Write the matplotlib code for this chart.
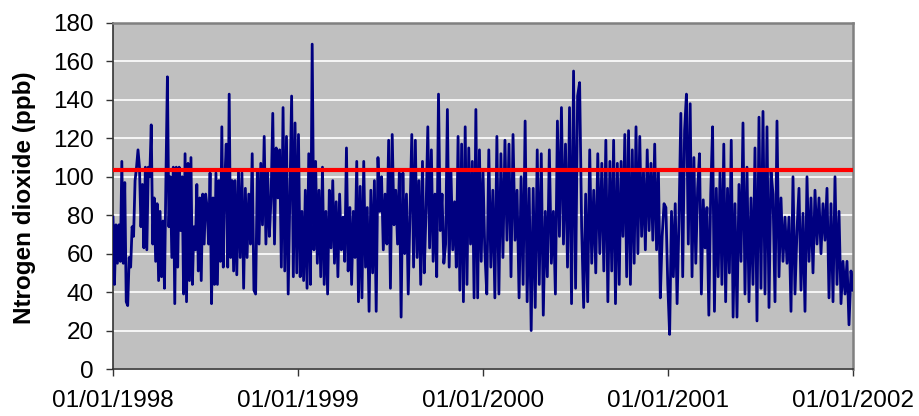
import numpy as np
import pandas as pd
import matplotlib
matplotlib.use("Agg")
import matplotlib.pyplot as plt
import matplotlib.dates as mdates

# NO2 readings (ppb) in six stretches
seg_edges = ['1998-01-01', '1998-08-30', '1999-05-04', '2000-01-05',
             '2000-09-08', '2001-05-13', '2002-01-01']

no2_a = [79, 44, 75, 55, 75, 56, 108, 55, 97, 35, 33, 58, 53, 74, 69, 98, 105, 114,
         105, 74, 96, 63, 105, 62, 105, 100, 127, 65, 89, 56, 86, 46, 82, 48, 77, 42,
         100, 152, 74, 100, 58, 105, 34, 105, 53, 105, 72, 100, 39, 112, 35, 107, 46,
         110, 44, 74, 62, 96, 51, 89, 46, 91, 65, 91, 84, 65, 102, 34, 89, 44, 102, 44,
         98, 56, 126, 53, 98, 117, 53, 143, 58, 98, 51]
no2_b = [98, 49, 103, 58, 102, 42, 94, 58, 91, 65, 112, 41, 39, 103, 65, 107, 75, 121,
         65, 103, 69, 89, 133, 65, 115, 89, 114, 53, 136, 51, 121, 39, 89, 142, 48, 128,
         50, 122, 48, 82, 46, 93, 42, 112, 44, 169, 62, 108, 55, 93, 48, 105, 44, 82,
         39, 93, 63, 98, 55, 87, 48, 91, 62, 79, 56, 115, 51, 84, 44, 82, 58, 108, 35]
no2_c = [95, 37, 108, 53, 84, 30, 93, 50, 98, 30, 110, 82, 100, 62, 91, 65, 119, 42,
         122, 75, 93, 65, 102, 27, 102, 60, 91, 39, 82, 122, 53, 119, 58, 98, 44, 108,
         50, 82, 126, 63, 114, 56, 91, 48, 143, 72, 91, 55, 65, 135, 53, 103, 62, 87,
         53, 121, 41, 117, 35, 126, 44, 115, 65, 108, 37, 135, 37, 114, 56, 103]
no2_d = [62, 39, 114, 53, 93, 37, 121, 39, 112, 58, 119, 67, 117, 48, 122, 67, 93, 37,
         100, 44, 129, 35, 94, 20, 94, 32, 114, 44, 112, 28, 82, 48, 114, 55, 82, 39,
         129, 69, 136, 65, 117, 53, 136, 34, 155, 42, 142, 149, 74, 32, 91, 35, 114,
         55, 93, 50, 112, 60, 107, 51, 119, 35]
no2_e = [108, 51, 119, 34, 107, 44, 108, 69, 122, 48, 124, 44, 114, 55, 126, 60, 121,
         69, 103, 62, 114, 72, 107, 67, 117, 62, 103, 37, 69, 86, 84, 44, 18, 82, 48,
         86, 34, 77, 133, 48, 124, 143, 65, 138, 48, 110, 55, 94, 112, 39, 88, 63, 84,
         28, 91, 126, 30, 94, 48, 103, 44, 117, 35, 94, 50, 119, 27]
no2_f = [86, 27, 96, 56, 128, 39, 105, 35, 89, 44, 115, 25, 131, 42, 134, 39, 126, 32,
         103, 91, 35, 129, 48, 89, 56, 79, 55, 79, 30, 100, 39, 72, 94, 41, 81, 30, 100,
         56, 89, 50, 93, 65, 89, 60, 86, 67, 94, 37, 86, 35, 100, 44, 82, 34, 56, 39,
         56, 23, 51, 41]
limit = 103.5

segments = [no2_a, no2_b, no2_c, no2_d, no2_e, no2_f]
edges = pd.to_datetime(seg_edges)
dates = []
values = []
for i, seg in enumerate(segments):
    last = i == len(segments) - 1
    d = pd.date_range(edges[i], edges[i + 1], periods=len(seg) + (0 if last else 1))
    if not last:
        d = d[:-1]
    dates.extend(d)
    values.extend(seg)

plt.rcParams['font.family'] = ['Liberation Sans', 'DejaVu Sans']

fig = plt.figure(figsize=(9.19, 4.16), dpi=100)
ax = fig.add_axes([113 / 919, 47 / 416, 740 / 919, 346 / 416])
ax.set_facecolor('#c0c0c0')

ax.plot(dates, values, color='#000080', lw=2.0, zorder=3)
ax.axhline(limit, color='#ff0000', lw=3, zorder=4)

ax.set_ylim(0, 180)
ax.set_yticks(range(0, 181, 20))
ax.set_xlim(pd.Timestamp('1998-01-01'), pd.Timestamp('2002-01-01'))
ax.xaxis.set_major_locator(mdates.YearLocator())
ax.xaxis.set_major_formatter(mdates.DateFormatter('%d/%m/%Y'))
ax.grid(axis='y', color='white', lw=1.2, zorder=1)
ax.set_axisbelow(True)

ax.tick_params(axis='both', direction='out', length=5, width=1, labelsize=17.5, color='#333333')
ax.tick_params(axis='y', pad=9)
ax.tick_params(axis='x', pad=10)

for s in ['left', 'bottom']:
    ax.spines[s].set_color('#333333')
    ax.spines[s].set_linewidth(1.2)
for s in ['top', 'right']:
    ax.spines[s].set_color('#808080')
    ax.spines[s].set_linewidth(1.8)

fig.text(25 / 919, 0.525, 'Ntrogen dioxide (ppb)', rotation=90, ha='center', va='center',
         fontsize=17.5, fontweight='bold')

fig.savefig('out.png', dpi=100)
